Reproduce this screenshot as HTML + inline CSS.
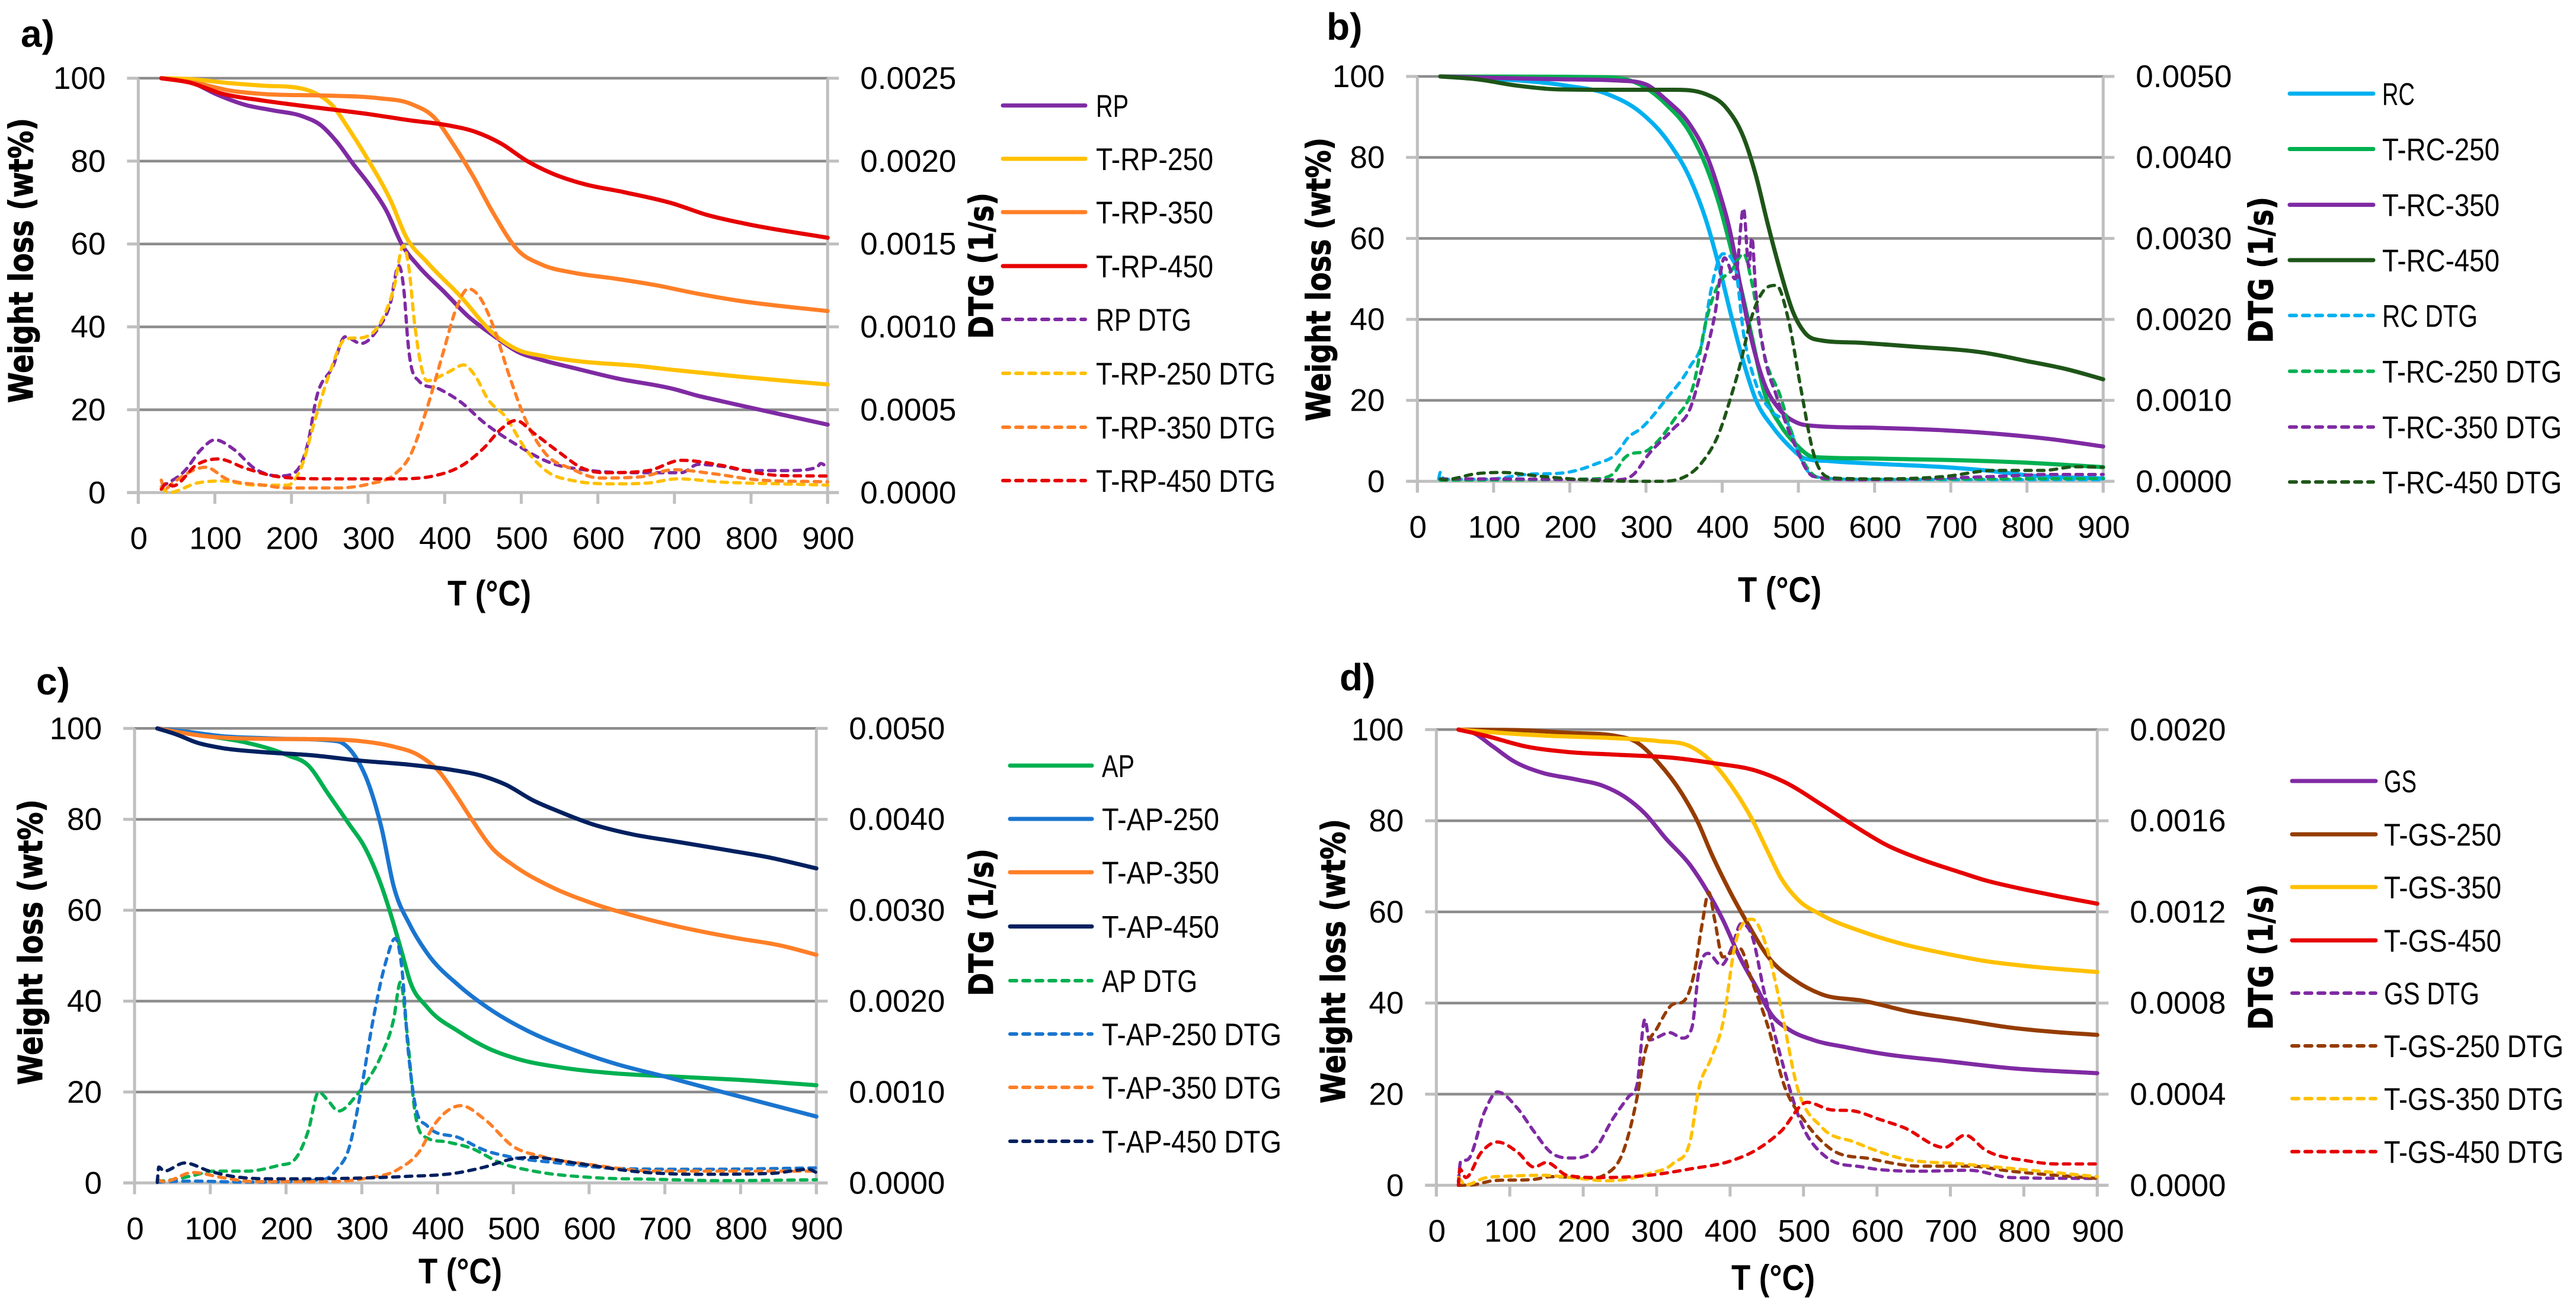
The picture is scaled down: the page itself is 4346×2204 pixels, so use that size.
<!DOCTYPE html>
<html lang="en">
<head>
<meta charset="utf-8">
<title>TGA and DTG curves</title>
<style>
html,body{margin:0;padding:0;background:#fff;}
svg{display:block;}
text{fill:#000;font-family:"Liberation Sans",sans-serif;}
.tick{font-size:53px;}
.legend{font-size:53px;}
.ytitle{font-family:"DejaVu Sans",sans-serif;font-weight:bold;font-size:56px;stroke:#000;stroke-width:1px;}
.xtitle{font-weight:bold;font-size:60px;}
.plabel{font-weight:bold;font-size:64px;}
</style>
</head>
<body>
<svg id="figure" xmlns="http://www.w3.org/2000/svg" width="4346" height="2204" viewBox="0 0 4346 2204"></svg>
<script>
// ---- Shared tick labels ----
const xTickValues = [0,100,200,300,400,500,600,700,800,900];
const yTickValues = [0,20,40,60,80,100];
const dtgTicksA = ['0.0000','0.0005','0.0010','0.0015','0.0020','0.0025'];
const dtgTicksB = ['0.0000','0.0010','0.0020','0.0030','0.0040','0.0050'];
const dtgTicksC = ['0.0000','0.0010','0.0020','0.0030','0.0040','0.0050'];
const dtgTicksD = ['0.0000','0.0004','0.0008','0.0012','0.0016','0.0020'];

// ---- Panel a: weight loss (wt%) ----
const aRpT = [30,72,100,141,174,216,238,259,281,302,324,345,366,399,431,463,495,527,570,624,699,730,763,838,900];
const aRpW = [100,98.8,96.3,93.5,92.3,90.7,88.7,84.7,79.2,74.2,68,59.6,54.6,48.5,42.5,38,34,32,30,27.6,25,23.4,22,18.9,16.4];
const aR250T = [30,66,120,163,211,232,254,275,302,329,350,377,420,463,495,527,570,656,699,784,900];
const aR250W = [100,99.8,98.8,98.2,97.6,96.3,93.3,87.7,79.7,70.7,61.6,55.6,47.5,38.5,34.5,33,31.8,30.5,29.6,28,26.1];
const aR350T = [30,77,120,163,249,313,356,388,409,436,463,495,527,570,624,677,730,784,900];
const aR350W = [100,98.8,97,96.2,95.8,95.2,93.8,90.2,84.7,76.7,67.6,58.6,55,53,51.6,50,48,46.3,43.8];
const aR450T = [30,66,109,163,216,302,356,399,441,474,506,538,581,634,699,741,795,900];
const aR450W = [100,99,96.3,94.6,93.3,91.3,89.8,88.8,87,84.2,80.2,77.2,74.5,72.5,69.7,67.1,64.8,61.5];
// Panel a: DTG, in units of 1e-4 1/s
const aRpDtgT = [30,61,82,100,125,152,184,204,222,232,254,270,291,313,329,340,347,352,366,393,420,452,490,538,591,656,709,731,763,795,849,886,891,900];
const aRpDtgV = [.33,1.33,2.6,3.18,2.6,1.45,1,1.2,3.1,5.6,7.6,9.4,9,9.9,11.4,13.7,12.1,9.1,6.75,6.25,5.5,4.2,3,1.8,1.33,1.2,1.2,1.7,1.58,1.33,1.33,1.53,1.75,1.53];
const aR250DtgT = [30,40,77,109,152,195,211,232,249,270,297,318,334,346,353,361,377,404,425,439,457,479,506,532,570,624,666,704,763,838,900];
const aR250DtgV = [.3,0,.58,.7,.45,.45,1.33,4.6,7.1,9.25,9.4,10.4,12.4,14.9,13.65,10.1,6.75,7.25,7.7,7.1,5.6,4.6,2.6,1.33,.7,.53,.58,.83,.63,.53,.45];
const aR350DtgT = [30,34,45,88,115,163,195,259,302,334,356,377,399,415,431,444,463,484,506,532,565,602,656,699,752,806,900];
const aR350DtgV = [.75,.2,.58,1.53,.83,.45,.28,.28,.53,1.08,2.33,5.1,8.6,11.1,12.3,11.9,10.1,7.1,4.35,2.33,1.45,.88,.95,1.38,1.13,.78,.65];
const aR450DtgT = [30,37,45,77,104,141,184,249,334,388,425,452,474,493,516,549,581,608,666,709,763,806,838,900];
const aR450DtgV = [.2,.58,.4,1.7,2.03,1.45,.95,.83,.83,1.03,1.7,2.73,3.85,4.35,3.6,2.45,1.45,1.2,1.33,1.95,1.63,1.2,1.03,1];

// ---- Panel b ----
const bRcT = [30,110,196,250,293,331,358,379,396,412,428,444,466,487,509,541,606,692,746,800,900];
const bRcW = [100,99.3,97.7,95.6,91.1,83.4,74.7,64.4,53,40.8,29.4,20.2,13.5,8.9,5.6,5,4.3,3.5,2.7,1.5,.7];
const bR250T = [30,250,293,326,358,379,396,412,423,439,455,476,498,520,606,692,800,900];
const bR250W = [100,99.8,97.9,93.2,86,77.8,68.5,57.2,49,35.6,22.2,14,8.9,6,5.6,5.3,4.6,3.5];
const bR350T = [30,89,186,261,299,326,358,379,396,412,423,439,455,476,498,520,606,692,757,832,900];
const bR350W = [100,99.7,99.3,99,98.1,94.3,88,80.8,71.6,60.3,49,34.6,24.3,17.6,14.5,13.7,13.2,12.6,11.8,10.4,8.6];
const bR450T = [30,78,132,186,261,336,379,406,428,444,460,476,493,509,530,584,649,746,800,854,900];
const bR450W = [100,99.3,97.7,96.8,96.7,96.7,95.6,92.1,85,75.7,63.4,52.1,41.8,36.6,34.8,34.2,33.3,31.7,29.7,27.6,25.2];
const bRcDtgT = [28,30,35,89,143,196,234,261,277,293,326,358,374,385,401,417,428,444,466,487,503,520,584,900];
const bRcDtgV = [.3,1.1,.25,.25,.85,1.1,2.15,3.4,5.45,6.5,10.1,14.2,17.3,23.45,28.1,26.5,18.3,12.15,8.55,7,2.9,.6,.25,.2];
const bR250DtgT = [30,229,256,272,304,336,363,379,396,412,428,439,455,476,493,514,541,746,900];
const bR250DtgV = [.15,.3,.85,2.9,3.95,7.5,12.15,19.85,24.5,26,28.1,24.5,15.75,10.6,5.45,1.35,.25,.3,.35];
const bR350DtgT = [30,89,261,283,304,336,358,374,390,403,417,428,435,439,444,455,471,493,520,584,757,832,900];
const bR350DtgV = [.3,.3,.2,.8,3.4,6.5,9,14.2,20.4,27.6,25,33.7,26.5,30.1,23.5,15.8,10.6,5,.6,.2,.6,.85,.85];
const bR450DtgT = [30,35,78,110,164,218,315,347,374,396,412,423,439,454,471,487,503,520,547,606,692,757,821,864,900];
const bR450DtgV = [.3,.2,.95,1.1,.6,.2,0,.4,2.4,6,10.6,14.2,20.4,23.5,24.2,19.9,11.6,3.4,.4,.3,.6,1.35,1.35,1.8,1.75];

// ---- Panel c ----
const cApT = [30,93,147,202,229,256,283,305,326,342,353,364,386,429,467,505,559,635,711,797,900];
const cApW = [100,98.4,96.9,94.1,91.9,85.5,79,73.5,65.3,57,50.6,44.2,38.7,33.2,29.6,27.3,25.5,24.1,23.4,22.7,21.5];
const cA250T = [30,72,115,180,267,288,310,326,342,364,386,429,473,527,581,635,700,776,900];
const cA250W = [100,99.2,98.3,97.8,97.2,94.6,87.3,78.1,65.3,56.6,50.6,43.3,37.8,32.8,29.2,26.2,23.4,20,14.6];
const cA350T = [30,93,169,256,299,342,375,402,424,445,473,500,548,603,668,743,797,851,900];
const cA350W = [100,98.3,97.7,97.6,97.2,96,94.1,90.5,85.4,80,73.5,69.9,65.3,61.6,58.4,55.5,53.8,52.3,50.2];
const cA450T = [30,55,82,115,169,234,299,364,418,462,489,527,559,603,657,711,776,841,900];
const cA450W = [100,98.7,96.9,95.7,94.8,94.1,92.9,92,90.9,89.4,87.7,84.1,81.8,79,76.7,75.2,73.4,71.5,69.2];
const cApDtgT = [30,50,77,104,147,191,210,229,243,256,269,294,310,326,342,351,359,370,386,413,445,483,527,603,689,776,900];
const cApDtgV = [.15,.35,.8,1.3,1.3,1.95,2.45,5.65,10,9,7.9,9.75,11.6,14.1,18,22.1,17.1,7.9,4.95,4.5,3.8,2.2,1.3,.6,.4,.25,.35];
const cA250DtgT = [30,72,147,250,267,283,299,315,332,344,353,361,370,386,429,462,494,559,635,743,900];
const cA250DtgV = [.1,.2,.1,.4,1.5,3.8,10.2,18,24.4,26.9,23.5,14.8,8.8,6.3,4.95,3.6,2.9,2.2,1.6,1.5,1.65];
const cA350DtgT = [30,39,77,115,158,256,305,348,375,397,431,462,500,538,603,689,900];
const cA350DtgV = [.35,.15,1.15,.6,.15,.15,.5,1.5,3.35,6.55,8.5,7,4,2.9,2,1.3,1.3];
const cA450DtgT = [30,32,39,66,99,131,191,277,353,429,462,500,527,581,668,743,841,890,900];
const cA450DtgV = [.05,1.75,1.3,2.2,1.3,.7,.45,.5,.7,1.15,1.75,2.65,2.8,2.2,1.2,.95,1.05,1.5,1.15];

// ---- Panel d ----
const dGsT = [30,50,77,105,145,189,228,256,284,312,346,368,390,413,435,457,480,513,558,614,692,782,900];
const dGsW = [100,99.3,96.3,93.1,90.5,89.1,87.6,85.3,81.6,76.2,70.2,64.8,58.3,50.1,43.7,37.3,34.2,31.9,30.3,28.7,27.3,25.7,24.6];
const dG250T = [30,111,178,245,273,301,335,357,374,402,424,452,491,525,581,648,715,782,838,900];
const dG250W = [100,99.9,99.3,98.6,97.2,93,85.8,79.4,73,63.8,57.4,50.1,44.7,41.9,40.5,38,36.3,34.6,33.7,33];
const dG350T = [30,77,145,245,301,346,374,402,430,452,469,491,525,581,636,692,748,804,900];
const dG350W = [100,99.4,98.7,98.1,97.5,96.3,93.1,87.6,80.3,73,67.5,62.9,59.3,55.6,52.9,50.9,49.2,48.1,46.8];
const dG450T = [30,66,122,178,245,323,379,435,474,525,569,614,659,715,748,793,838,900];
const dG450W = [100,98.7,96.3,95.1,94.5,93.8,92.6,91,88.5,83.5,78.9,74.6,71.6,68.6,66.9,65.2,63.7,61.8];
const dGsDtgT = [30,33,44,66,83,111,133,156,184,217,240,262,273,284,290,318,335,348,357,370,388,402,415,430,446,469,497,530,581,659,726,782,900];
const dGsDtgV = [.16,1.04,1.16,3.26,4.1,3.36,2.36,1.44,1.2,1.62,2.9,3.9,4.36,7.28,6.38,6.7,6.46,6.92,9.3,10.18,9.66,10.4,11.48,10.94,8.56,5.64,2.72,1.26,.8,.62,.66,.34,.3];
const dG250DtgT = [30,50,77,133,156,212,228,256,273,284,301,318,340,351,362,371,379,390,413,430,452,474,502,536,592,659,726,782,900];
const dG250DtgV = [0,.02,.2,.26,.38,.32,.44,1.62,3.8,5.82,6.92,7.84,8.2,9.3,11.48,12.86,11.66,10.02,10.4,8.94,6.92,4.36,2.8,1.62,1.16,.84,.84,.62,.3];
const dG350DtgT = [30,40,66,100,145,189,234,290,323,346,357,374,390,407,430,452,469,491,525,569,636,715,782,900];
const dG350DtgV = [.34,.02,.32,.4,.44,.32,.2,.52,.98,2,4.18,5.56,7.1,10.58,11.68,10.2,7.84,4.36,2.54,1.9,1.16,.94,.74,.38];
const dG450DtgT = [30,32,40,61,83,111,133,150,178,223,290,346,402,435,469,505,536,569,603,636,692,720,748,804,843,900];
const dG450DtgV = [0,.72,.34,1.44,1.9,1.44,.8,1,.44,.34,.44,.72,1.08,1.54,2.36,3.64,3.32,3.26,2.9,2.54,1.66,2.2,1.54,1.08,.94,.94];

const PURPLE='#7f2aa3', YELLOW='#ffc000', ORANGE='#ff7f27', RED='#e60000',
      SKY='#00b0f0', GREEN='#00b050', DKGREEN='#1e5518', NAVY='#002060', BLUE='#1a75cf', BROWN='#953c00';

const panels = [
 { id:'a', title:'a)', tx:35, ty:79,
   x0:233.3, x900:1396.3, yTop:132, yBot:831.3, dtgMax:25, dtgTicks:dtgTicksA,
   wTitle:[55,199,680], dTitle:[1675,325,572], xTitle:[755,1022,141],
   legend:{x1:1692,x2:1831,tx:1849,y:[178,268,358,449,539,630,721,811]},
   series:[
    {label:'RP',color:PURPLE,t:aRpT,v:aRpW},{label:'T-RP-250',color:YELLOW,t:aR250T,v:aR250W},
    {label:'T-RP-350',color:ORANGE,t:aR350T,v:aR350W},{label:'T-RP-450',color:RED,t:aR450T,v:aR450W},
    {label:'RP DTG',color:PURPLE,t:aRpDtgT,v:aRpDtgV,dtg:true},{label:'T-RP-250 DTG',color:YELLOW,t:aR250DtgT,v:aR250DtgV,dtg:true},
    {label:'T-RP-350 DTG',color:ORANGE,t:aR350DtgT,v:aR350DtgV,dtg:true},{label:'T-RP-450 DTG',color:RED,t:aR450DtgT,v:aR450DtgV,dtg:true}]},
 { id:'b', title:'b)', tx:2238, ty:67,
   x0:2391.3, x900:3548.3, yTop:129, yBot:812.3, dtgMax:50, dtgTicks:dtgTicksB,
   wTitle:[2244,232,711], dTitle:[3834,332,579], xTitle:[2932,1016,141],
   legend:{x1:3863,x2:4004,tx:4019,y:[158,251.5,345.6,439,532.4,626.5,720.6,813.4]},
   series:[
    {label:'RC',color:SKY,t:bRcT,v:bRcW},{label:'T-RC-250',color:GREEN,t:bR250T,v:bR250W},
    {label:'T-RC-350',color:PURPLE,t:bR350T,v:bR350W},{label:'T-RC-450',color:DKGREEN,t:bR450T,v:bR450W},
    {label:'RC DTG',color:SKY,t:bRcDtgT,v:bRcDtgV,dtg:true},{label:'T-RC-250 DTG',color:GREEN,t:bR250DtgT,v:bR250DtgV,dtg:true},
    {label:'T-RC-350 DTG',color:PURPLE,t:bR350DtgT,v:bR350DtgV,dtg:true},{label:'T-RC-450 DTG',color:DKGREEN,t:bR450DtgT,v:bR450DtgV,dtg:true}]},
 { id:'c', title:'c)', tx:61, ty:1172,
   x0:227, x900:1377.3, yTop:1229.3, yBot:1996.3, dtgMax:50, dtgTicks:dtgTicksC,
   wTitle:[71,1349,1831], dTitle:[1675,1432,1681], xTitle:[706,2166,141],
   legend:{x1:1704,x2:1842,tx:1859,y:[1292,1382,1472,1563.5,1655,1745,1835,1926]},
   series:[
    {label:'AP',color:GREEN,t:cApT,v:cApW},{label:'T-AP-250',color:BLUE,t:cA250T,v:cA250W},
    {label:'T-AP-350',color:ORANGE,t:cA350T,v:cA350W},{label:'T-AP-450',color:NAVY,t:cA450T,v:cA450W},
    {label:'AP DTG',color:GREEN,t:cApDtgT,v:cApDtgV,dtg:true},{label:'T-AP-250 DTG',color:BLUE,t:cA250DtgT,v:cA250DtgV,dtg:true},
    {label:'T-AP-350 DTG',color:ORANGE,t:cA350DtgT,v:cA350DtgV,dtg:true},{label:'T-AP-450 DTG',color:NAVY,t:cA450DtgT,v:cA450DtgV,dtg:true}]},
 { id:'d', title:'d)', tx:2260, ty:1165,
   x0:2423.3, x900:3538.3, yTop:1231.3, yBot:2000.3, dtgMax:20, dtgTicks:dtgTicksD,
   wTitle:[2269,1382,1862], dTitle:[3834,1492,1738], xTitle:[2921,2177,141],
   legend:{x1:3867,x2:4008,tx:4022,y:[1318,1408,1497,1587,1676,1765,1854,1943.5]},
   series:[
    {label:'GS',color:PURPLE,t:dGsT,v:dGsW},{label:'T-GS-250',color:BROWN,t:dG250T,v:dG250W},
    {label:'T-GS-350',color:YELLOW,t:dG350T,v:dG350W},{label:'T-GS-450',color:RED,t:dG450T,v:dG450W},
    {label:'GS DTG',color:PURPLE,t:dGsDtgT,v:dGsDtgV,dtg:true},{label:'T-GS-250 DTG',color:BROWN,t:dG250DtgT,v:dG250DtgV,dtg:true},
    {label:'T-GS-350 DTG',color:YELLOW,t:dG350DtgT,v:dG350DtgV,dtg:true},{label:'T-GS-450 DTG',color:RED,t:dG450DtgT,v:dG450DtgV,dtg:true}]}
];

const SVGNS = 'http://www.w3.org/2000/svg';
const root = document.getElementById('figure');

function make(parent, tag, attrs, content) {
  const node = document.createElementNS(SVGNS, tag);
  for (const k in attrs) node.setAttribute(k, attrs[k]);
  if (content !== undefined) node.textContent = content;
  parent.appendChild(node);
  return node;
}
function slug(s) { return s.toLowerCase().replace(/[^a-z0-9]+/g, '-'); }

// Limited cubic path through the read points: smooth, no overshoot at peaks
function smoothPath(px, py) {
  const n = px.length;
  const m = new Array(n).fill(0);
  const d = [], h = [];
  for (let i = 0; i < n - 1; i++) {
    h.push(Math.max(px[i + 1] - px[i], 0.001));
    d.push((py[i + 1] - py[i]) / h[i]);
  }
  m[0] = d[0]; m[n - 1] = d[n - 2];
  for (let i = 1; i < n - 1; i++) {
    if (d[i - 1] * d[i] <= 0) { m[i] = 0; continue; }
    const avg = (d[i - 1] * h[i] + d[i] * h[i - 1]) / (h[i] + h[i - 1]);
    const cap = 3 * Math.min(Math.abs(d[i - 1]), Math.abs(d[i]));
    m[i] = Math.sign(avg) * Math.min(Math.abs(avg), cap);
  }
  let out = 'M' + px[0].toFixed(1) + ' ' + py[0].toFixed(1);
  for (let i = 0; i < n - 1; i++) {
    const s = h[i] / 3;
    out += 'C' + (px[i] + s).toFixed(1) + ' ' + (py[i] + m[i] * s).toFixed(1) + ' ' +
      (px[i + 1] - s).toFixed(1) + ' ' + (py[i + 1] - m[i + 1] * s).toFixed(1) + ' ' +
      px[i + 1].toFixed(1) + ' ' + py[i + 1].toFixed(1);
  }
  return out;
}

function legendWidth(label) {
  const t = label.indexOf('T-') === 0, dtg = label.indexOf('DTG') > 0;
  return t ? (dtg ? 303 : 198) : (dtg ? 161 : 55);
}

panels.forEach(function (p) {
  const g = make(root, 'g', {});
  
  

  const xScale = function (t) { return p.x0 + (t / 900) * (p.x900 - p.x0); };
  const yLeft = function (w) { return p.yBot + (w / 100) * (p.yTop - p.yBot); };
  const yRight = function (v) { return p.yBot + (v / p.dtgMax) * (p.yTop - p.yBot); };
  const TICK = 19, AXIS = '#bfbfbf', GRID = '#8c8c8c';

  // Gridlines and y ticks
  yTickValues.forEach(function (w, i) {
    const y = yLeft(w);
    if (w > 0) {
      const grid = make(g, 'line', {x1:p.x0, x2:p.x900, y1:y, y2:y, stroke:GRID, 'stroke-width':4.5});
      
      
    }
    const tl = make(g, 'line', {x1:p.x0 - TICK, x2:p.x0, y1:y, y2:y, stroke:AXIS, 'stroke-width':5});
    
    
    const tr = make(g, 'line', {x1:p.x900, x2:p.x900 + TICK, y1:y, y2:y, stroke:AXIS, 'stroke-width':5});
    
    
    const ll = make(g, 'text', {x:p.x0 - 55, y:y + 18, 'text-anchor':'end', class:'tick'}, String(w));
    
    
    const rl = make(g, 'text', {x:p.x900 + 55, y:y + 18, class:'tick'}, p.dtgTicks[i]);
    
    
  });

  // Axes
  const axL = make(g, 'line', {x1:p.x0, x2:p.x0, y1:p.yTop, y2:p.yBot + TICK, stroke:AXIS, 'stroke-width':5});
  
  
  const axR = make(g, 'line', {x1:p.x900, x2:p.x900, y1:p.yTop, y2:p.yBot + TICK, stroke:AXIS, 'stroke-width':5});
  
  
  const axB = make(g, 'line', {x1:p.x0 - TICK, x2:p.x900 + TICK, y1:p.yBot, y2:p.yBot, stroke:AXIS, 'stroke-width':5});
  
  

  xTickValues.forEach(function (t) {
    const x = xScale(t);
    const tk = make(g, 'line', {x1:x, x2:x, y1:p.yBot, y2:p.yBot + TICK, stroke:AXIS, 'stroke-width':5});
    
    
    const lb = make(g, 'text', {x:x + 1, y:p.yBot + 95, 'text-anchor':'middle', class:'tick'}, String(t));
    
    
  });

  // Titles
  const wCy = (p.wTitle[1] + p.wTitle[2]) / 2;
  const wt = make(g, 'text', {x:0, y:0, class:'ytitle', 'text-anchor':'middle',
    transform:'translate(' + p.wTitle[0] + ' ' + wCy + ') rotate(-90)',
    textLength:p.wTitle[2] - p.wTitle[1], lengthAdjust:'spacingAndGlyphs'}, 'Weight loss (wt%)');
  
  
  const dCy = (p.dTitle[1] + p.dTitle[2]) / 2;
  const dt = make(g, 'text', {x:0, y:0, class:'ytitle', 'text-anchor':'middle',
    transform:'translate(' + p.dTitle[0] + ' ' + dCy + ') rotate(-90)',
    textLength:p.dTitle[2] - p.dTitle[1], lengthAdjust:'spacingAndGlyphs'}, 'DTG (1/s)');
  
  
  const xt = make(g, 'text', {x:p.xTitle[0], y:p.xTitle[1], class:'xtitle',
    textLength:p.xTitle[2], lengthAdjust:'spacingAndGlyphs'}, 'T (°C)');
  
  
  const pl = make(g, 'text', {x:p.tx, y:p.ty, class:'plabel'}, p.title);
  
  

  // Series and legend
  p.series.forEach(function (s, i) {
    const px = s.t.map(xScale);
    const py = s.v.map(s.dtg ? yRight : yLeft);
    const common = {fill:'none', stroke:s.color, 'stroke-linecap':'round', 'stroke-linejoin':'round'};
    const lineAttrs = Object.assign({d:smoothPath(px, py), 'stroke-width':s.dtg ? 5.5 : 7}, common);
    if (s.dtg) lineAttrs['stroke-dasharray'] = '11 10.5';
    const path = make(g, 'path', lineAttrs);
    
    

    const ly = p.legend.y[i];
    const kAttrs = Object.assign({d:'M' + p.legend.x1 + ' ' + ly + 'H' + p.legend.x2, 'stroke-width':s.dtg ? 6 : 7}, common);
    if (s.dtg) kAttrs['stroke-dasharray'] = '11 11';
    const key = make(g, 'path', kAttrs);
    
    
    const lab = make(g, 'text', {x:p.legend.tx, y:ly + 19, class:'legend',
      textLength:legendWidth(s.label), lengthAdjust:'spacingAndGlyphs'}, s.label);
    
    
  });
});
</script>
</body>
</html>
